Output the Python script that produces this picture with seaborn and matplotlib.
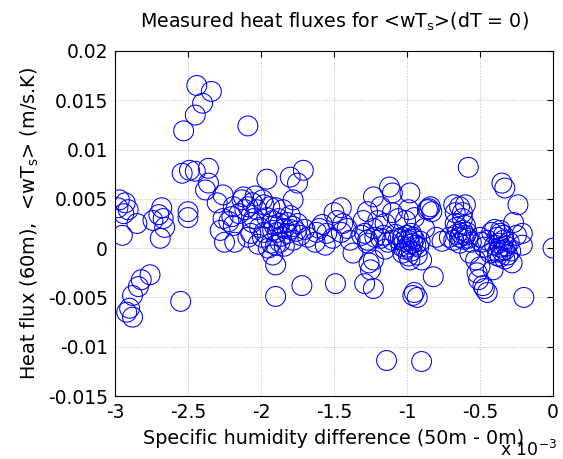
import numpy as np
import pandas as pd
import matplotlib
matplotlib.use("Agg")
import matplotlib.pyplot as plt
import seaborn as sns
from matplotlib.ticker import FuncFormatter

# Specific humidity difference (units of 1e-3) and heat flux (units of 1e-3 m/s.K)
dq_e3 = [
    -2.97, -2.93, -2.98, -2.91, -2.94, -2.85, -2.95, -2.74, -2.68, -2.67, -2.66, -2.69, -2.70,
    -2.76, -2.82, -2.84, -2.88, -2.90, -2.92, -2.88, -2.55,
    -2.44, -2.34, -2.40, -2.45, -2.53, -2.09,
    -2.54, -2.49, -2.45, -2.36, -2.36, -2.38, -2.50, -2.50,
    -2.26, -2.30, -2.12, -2.09, -2.19, -1.99, -1.94, -2.26, -2.28, -2.19, -2.25, -2.18, -2.09,
    -2.05, -2.01, -1.96, -1.92, -1.99, -1.93, -1.92, -1.90, -1.96,
    -2.13, -2.11, -2.06, -2.04,
    -1.80, -1.71, -1.75, -1.78, -1.90, -1.85, -1.80, -1.92, -1.87, -1.82, -1.75, -1.89, -1.82,
    -1.73, -1.87, -1.78, -1.68, -1.62, -1.63, -1.56, -1.55, -1.45, -1.48, -1.44, -1.41, -1.45,
    -1.51, -1.39, -1.37, -1.30, -1.31, -1.27,
    -1.84, -1.80, -1.86, -1.78, -1.91, -1.88, -1.76, -1.70, -1.84, -1.95, -1.90, -1.98, -2.02,
    -2.07, -2.15, -2.20, -2.22, -2.03, -1.98, -2.06,
    -1.90, -1.72, -1.49, -1.29, -1.23, -1.26, -1.14, -0.90,
    -1.12, -0.98, -1.10, -1.23, -0.84, -0.86, -0.83, -1.18, -1.27, -1.10, -0.99, -0.95, -1.01,
    -1.15, -1.23, -1.29, -1.27, -1.22, -1.16, -1.10, -1.03, -0.99, -0.97, -0.96, -1.00, -0.92,
    -1.03, -0.98, -0.93, -0.90, -0.80, -0.82, -1.23, -1.25, -0.95, -0.96, -0.93, -0.71,
    -0.67, -0.68,
    -0.98, -1.02, -0.95, -1.00, -0.97, -1.04, -0.94, -0.99, -1.06, -0.91, -1.01, -0.96,
    -1.18, -1.13, -1.08, -1.15, -1.20, -1.06, -0.76, -0.85, -0.88, -1.58, -1.60, -1.50,
    -0.58, -0.35, -0.33, -0.24, -0.64, -0.60, -0.67, -0.62, -0.27, -0.66, -0.62, -0.60, -0.64,
    -0.58, -0.68, -0.50, -0.49, -0.36, -0.38, -0.34, -0.25, -0.21, -0.36, -0.33, -0.38, -0.31,
    -0.36, -0.28, -0.57, -0.53, -0.50, -0.52, -0.51, -0.48, -0.47, -0.45, -0.41, 0.00, -0.21,
    -0.20, -0.62,
    -0.63, -0.61, -0.59, -0.64, -0.66, -0.60, -0.56,
    -0.37, -0.34, -0.32, -0.35, -0.30, -0.38, -0.33, -0.36, -0.40, -0.29,
    -0.45, -0.47, -0.43, -0.42, -0.40,
]
flux_e3 = [
    4.9, 4.6, 4.1, 3.9, 3.5, 2.5, 1.3, 2.8, 4.1, 3.0, 2.1, 1.0, 3.4,
    -2.7, -3.2, -3.9, -4.8, -6.1, -6.5, -7.0, -5.4,
    16.5, 15.9, 14.7, 13.5, 11.9, 12.4,
    7.6, 7.9, 7.8, 8.1, 6.6, 5.9, 3.7, 3.1,
    5.4, 4.6, 5.2, 4.2, 4.2, 4.9, 4.2, 3.0, 1.8, 2.3, 0.6, 0.6, 1.1,
    3.0, 2.1, 3.1, 1.8, 1.1, 0.5, -0.7, -1.7, 7.0,
    4.9, 3.9, 2.6, 5.3,
    7.2, 7.9, 6.6, 4.9, 4.1, 3.9, 3.3, 2.8, 2.5, 2.6, 2.5, 1.6, 1.5,
    1.3, 0.6, 0.8, 1.1, 1.6, 0.6, 0.3, 1.5, 4.1, 2.8, 2.5, 2.0, 1.6,
    1.0, 0.8, -0.5, 2.8, 1.3, 0.5,
    2.0, 1.9, 1.2, 2.2, 2.3, 3.0, 1.7, 1.9, 0.2, 0.0, 0.3, 1.6, 0.4,
    1.5, 3.5, 3.2, 2.7, 3.9, 4.4, 4.6,
    -4.9, -3.8, -3.6, -3.6, -4.1, -1.5, -11.4, -11.5,
    6.2, 5.6, 5.6, 5.2, 4.2, 3.9, 3.7, 4.2, 3.7, 3.6, 3.9, 3.1, 2.8,
    2.5, 2.0, 1.5, 0.8, 1.1, 1.3, 0.8, 1.1, 0.8, 1.5, 0.5, 0.1, 0.1,
    -0.5, -1.2, -0.7, -1.2, 1.1, -2.9, -1.2, -2.2, -4.5, -4.8, -5.0, 1.1,
    2.5, 4.4,
    0.4, 0.7, 0.9, 1.3, -0.3, 0.2, 0.3, -0.8, 0.9, 0.7, -0.1, 1.1,
    1.0, 0.6, 1.4, -0.1, 2.8, 3.0, 0.7, 4.0, 2.0, 2.4, 2.0, 3.6,
    8.2, 6.6, 6.1, 4.4, 4.2, 4.4, 3.6, 3.6, 2.6, 2.1, 1.8, 1.3, 1.1,
    1.0, 0.8, 1.1, 0.6, 1.8, 1.1, 1.3, 1.3, 0.3, 0.1, -0.2, -0.4, -0.7,
    -0.9, -1.5, -0.5, -1.2, -1.9, -2.5, -3.2, -3.8, -4.1, -4.5, -2.2, 0.0, 1.5,
    -5.0, 3.0,
    1.5, 0.9, 1.6, 0.5, 1.4, 2.3, 0.6,
    0.5, 0.8, 0.2, -0.3, 0.6, -0.8, -1.1, 1.5, 0.3, -0.3,
    0.8, 0.1, -0.5, 1.6, 1.9,
]

x_ticks_e3 = [-3, -2.5, -2, -1.5, -1, -0.5, 0]
y_ticks = [-0.015, -0.01, -0.005, 0, 0.005, 0.01, 0.015, 0.02]

df = pd.DataFrame({"dq": np.array(dq_e3) * 1e-3, "flux": np.array(flux_e3) * 1e-3})

sns.set_style("white")
plt.rcParams["font.family"] = ["DejaVu Sans"]
plt.rcParams["text.color"] = "black"
plt.rcParams["axes.labelcolor"] = "black"

fig = plt.figure(figsize=(5.63, 4.59), dpi=100)
ax = fig.add_axes([115 / 563, 1 - 396 / 459, 438 / 563, 345 / 459])

sns.scatterplot(data=df, x="dq", y="flux", ax=ax, marker="o", s=205,
                facecolor="none", edgecolor="#0000ff", linewidth=0.75, legend=False)

ax.set_xlim(-3e-3, 0)
ax.set_ylim(-0.015, 0.02)
ax.set_xticks([v * 1e-3 for v in x_ticks_e3])
ax.set_yticks(y_ticks)
ax.xaxis.set_major_formatter(FuncFormatter(lambda v, p: "%g" % round(v * 1e3, 6)))
ax.yaxis.set_major_formatter(FuncFormatter(lambda v, p: "%g" % round(v, 6)))

ax.grid(True, linestyle=":", color="#bbbbbb", linewidth=0.7)
ax.set_axisbelow(True)
for s in ax.spines.values():
    s.set_color("black")
    s.set_linewidth(0.8)
    s.set_visible(True)
ax.tick_params(direction="in", length=4, width=0.8, top=True, right=True,
               labelsize=13.5, colors="black", pad=5)

ax.set_xlabel("Specific humidity difference (50m - 0m)", fontsize=13.8, labelpad=5)
ax.set_ylabel("Heat flux (60m),  <wT$_\\mathregular{s}$> (m/s.K)", fontsize=13.9, labelpad=5)
ax.set_title("Measured heat fluxes for <wT$_\\mathregular{s}$>(dT = 0)", fontsize=13.7,
             pad=17, color="black")
fig.text(500 / 563, 1 - 456 / 459, "x 10$^{\\mathregular{-3}}$", fontsize=12.5, va="baseline")

fig.savefig("out.png", dpi=100)
